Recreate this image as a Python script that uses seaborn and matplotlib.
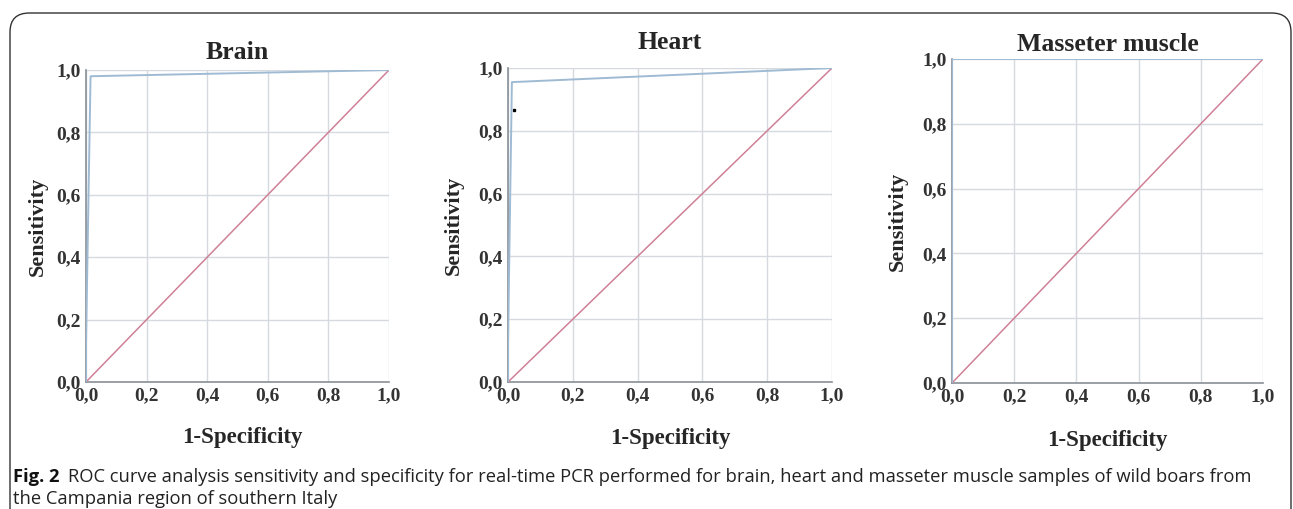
import matplotlib
matplotlib.use("Agg")
import matplotlib.pyplot as plt
import seaborn as sns
import pandas as pd
from matplotlib.patches import FancyBboxPatch

# ROC data
brain_fpr = [0.0, 0.0, 0.015, 1.0]
brain_tpr = [0.0, 0.12, 0.98, 1.0]
heart_fpr = [0.0, 0.0, 0.012, 1.0]
heart_tpr = [0.0, 0.12, 0.955, 1.0]
masseter_fpr = [0.0, 0.0, 1.0]
masseter_tpr = [0.0, 1.0, 1.0]
ref_line = [0.0, 1.0]

titles = ["Brain", "Heart", "Masseter muscle"]
ticks = [0.0, 0.2, 0.4, 0.6, 0.8, 1.0]
tick_labels = ["0,0", "0,2", "0,4", "0,6", "0,8", "1,0"]

sns.set_style("white")
plt.rcParams["font.family"] = ["Liberation Serif", "DejaVu Serif"]

fig = plt.figure(figsize=(12.93, 5.09), dpi=100)

# rounded frame of the figure panel
frame = FancyBboxPatch((10 / 1293, -0.05), 1281 / 1293, 1.02 - 13 / 509 + 0.03,
                       boxstyle="round,pad=0,rounding_size=0.015",
                       transform=fig.transFigure, fill=False,
                       edgecolor="#333333", linewidth=1.0, mutation_aspect=2.5)
fig.patches.append(frame)

positions = [
    [86 / 1293, 1 - 382 / 509, 303 / 1293, 312 / 509],
    [508 / 1293, 1 - 382 / 509, 324 / 1293, 314 / 509],
    [952 / 1293, 1 - 383 / 509, 311 / 1293, 324 / 509],
]
curves = [(brain_fpr, brain_tpr), (heart_fpr, heart_tpr), (masseter_fpr, masseter_tpr)]
title_pad = [8, 14, 6]
xlabel_x = [0.515, 0.5, 0.5]
ylabel_x = [-0.125, -0.136, -0.142]

for pos, title, (fpr, tpr), tp, lx, ly in zip(positions, titles, curves, title_pad,
                                              xlabel_x, ylabel_x):
    ax = fig.add_axes(pos)
    df = pd.DataFrame({"fpr": fpr, "tpr": tpr})
    ref = pd.DataFrame({"x": ref_line, "y": ref_line})
    sns.lineplot(data=ref, x="x", y="y", ax=ax, color="#cf8096", linewidth=1.1,
                 sort=False, estimator=None, zorder=3)
    sns.lineplot(data=df, x="fpr", y="tpr", ax=ax, color="#9fbbd4", linewidth=1.4,
                 sort=False, estimator=None, zorder=4)
    ax.set_xlim(0, 1)
    ax.set_ylim(0, 1)
    ax.set_xticks(ticks)
    ax.set_yticks(ticks)
    ax.set_xticklabels(tick_labels, fontsize=14, fontweight="bold", color="#333333")
    ax.set_yticklabels(tick_labels, fontsize=14, fontweight="bold", color="#333333")
    ax.tick_params(length=0, pad=4)
    ax.grid(True, color="#d6d9de", linewidth=1.0)
    for side in ["top", "right"]:
        ax.spines[side].set_visible(False)
    for side in ["left", "bottom"]:
        ax.spines[side].set_color("#8a9098")
        ax.spines[side].set_linewidth(1.2)
    ax.set_xlabel("1-Specificity", fontsize=16.5, fontweight="bold")
    ax.set_ylabel("Sensitivity", fontsize=16, fontweight="bold")
    ax.xaxis.set_label_coords(lx, -0.145)
    ax.yaxis.set_label_coords(ly, 0.5)
    ax.set_title(title, fontsize=18.5, fontweight="bold", pad=tp)

# stray dot on the heart panel
fig.axes[1].plot([0.02], [0.865], "s", color="black", markersize=2)

cap_font = ["Open Sans", "DejaVu Sans"]
fig.text(13 / 1293, 1 - 477 / 509, "Fig. 2", fontsize=13.2, fontweight="bold",
         family=cap_font, va="center", color="#111111")
fig.text(68 / 1293, 1 - 477 / 509,
         "ROC curve analysis sensitivity and specificity for real-time PCR performed for brain, "
         "heart and masseter muscle samples of wild boars from",
         fontsize=13.2, family=cap_font, va="center", color="#222222")
fig.text(13 / 1293, 1 - 499 / 509, "the Campania region of southern Italy",
         fontsize=13.2, family=cap_font, va="center", color="#222222")

fig.savefig("out.png", dpi=100)
